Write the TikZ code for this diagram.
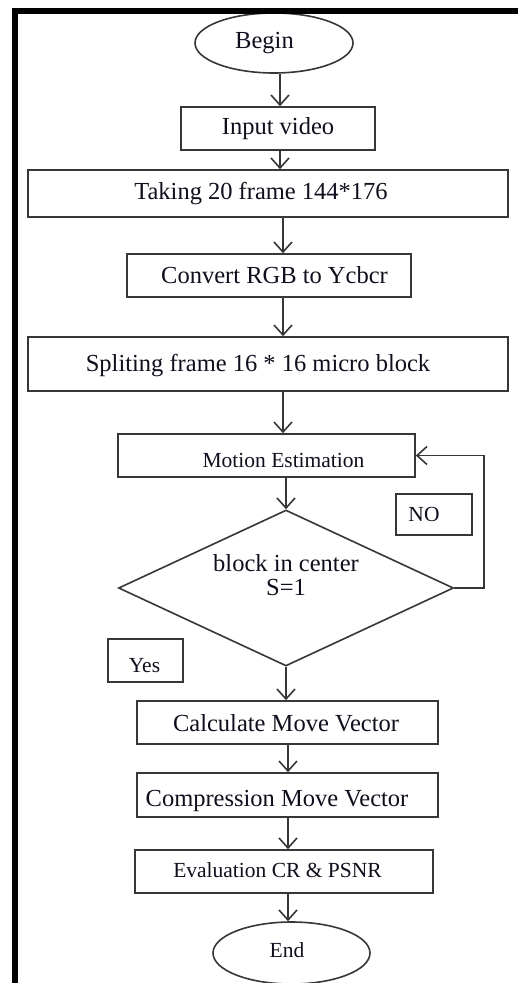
\documentclass[tikz,border=0pt]{standalone}
\usepackage{fontspec}
\setmainfont{Liberation Serif}
\usetikzlibrary{arrows.meta,shapes.geometric,calc}
\definecolor{ln}{RGB}{55,55,55}
\definecolor{tx}{RGB}{15,15,30}
\begin{document}
\begin{tikzpicture}[x=1pt,y=-1pt,
 box/.style={draw=ln,line width=1.6pt,rectangle,inner sep=0pt},
 oval/.style={draw=ln,line width=1.6pt,ellipse,inner sep=0pt},
 big/.style={font=\fontsize{24.5}{24}\selectfont,text=tx},
 med/.style={font=\fontsize{21.5}{24}\selectfont,text=tx},
 arr/.style={draw=ln,line width=1.6pt,-{Straight Barb[length=10pt,width=18pt,line width=1.6pt]}}]
\useasboundingbox (0,0) rectangle (529,983);
\clip (0,0) rectangle (529,983);
\fill[white] (0,0) rectangle (529,983);
% columns for the connectors
\coordinate (c280) at (280,0);
\coordinate (c283) at (283,0);
\coordinate (c288) at (288,0);
\coordinate (c484) at (484,0);
% nodes
\node[oval,minimum width=158pt,minimum height=60pt,label={[big,xshift=-9.5pt]center:Begin}] (begin) at (274,43) {};
\node[box,minimum width=194pt,minimum height=43pt,big] (in) at (278,128.5) {Input video};
\node[box,minimum width=480pt,minimum height=47pt,label={[big,xshift=-7pt]center:Taking 20 frame 144*176}] (take) at (268,193.5) {};
\node[box,minimum width=284pt,minimum height=43pt,label={[big,xshift=5.5pt]center:Convert RGB to Ycbcr}] (conv) at (269,275.5) {};
\node[box,minimum width=480pt,minimum height=54pt,label={[big,xshift=-10pt,yshift=-2pt]center:Spliting frame 16 * 16 micro block}] (split) at (268,364) {};
\node[box,minimum width=297pt,minimum height=43pt,label={[med,xshift=17pt,yshift=-4.5pt]center:Motion Estimation}] (motion) at (266.5,455.5) {};
\node[diamond,draw=ln,line width=1.6pt,inner sep=0pt,minimum width=335pt,minimum height=156pt,
  label={[big,align=center,yshift=13pt]center:{block in center\\S=1}}] (dia) at (286,588) {};
\node[box,minimum width=76pt,minimum height=41pt,label={[med,xshift=-10pt,yshift=0.5pt]center:NO}] (no) at (434,514.5) {};
\node[box,minimum width=75pt,minimum height=43pt,label={[med,xshift=-1pt,yshift=-5.5pt]center:Yes}] (yes) at (145.5,660.5) {};
\node[box,minimum width=301pt,minimum height=43pt,label={[big,xshift=-1.5pt,yshift=-0.5pt]center:Calculate Move Vector}] (calc) at (287.5,722.5) {};
\node[box,minimum width=301pt,minimum height=44pt,label={[big,xshift=-10.5pt,yshift=-6pt]center:Compression Move Vector}] (comp) at (287.5,795) {};
\node[box,minimum width=298pt,minimum height=43pt,label={[med,xshift=-6.5pt,yshift=1.5pt]center:Evaluation CR \& PSNR}] (eval) at (284,871.5) {};
\node[oval,minimum width=157pt,minimum height=62pt,label={[med,xshift=-4.5pt,yshift=3pt]center:End}] (end) at (291.5,953) {};
% connectors
\draw[arr] (begin.south -| c280) -- (in.north -| c280);
\draw[arr] (in.south -| c280) -- (take.north -| c280);
\draw[arr] (take.south -| c283) -- (conv.north -| c283);
\draw[arr] (conv.south -| c283) -- (split.north -| c283);
\draw[arr] (split.south -| c283) -- (motion.north -| c283);
\draw[arr] (motion.south -| dia.north) -- (dia.north);
\draw[arr] (dia.south) -- (calc.north -| dia.south);
\draw[arr] (calc.south -| c288) -- (comp.north -| c288);
\draw[arr] (comp.south -| c288) -- (eval.north -| c288);
\draw[arr] (eval.south -| c288) -- (end.north -| c288);
\draw[arr] (dia.east) -- (dia.east -| c484) |- (motion.east);
% frame bars
\fill[black] (12,8) rectangle (518,14);
\fill[black] (12,8) rectangle (18,983);
\end{tikzpicture}
\end{document}
